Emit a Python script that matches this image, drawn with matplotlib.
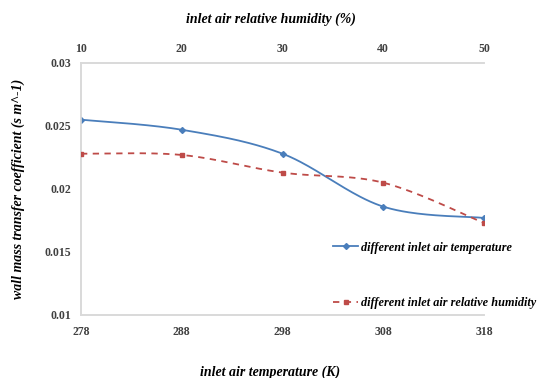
import numpy as np
import matplotlib.pyplot as plt
from matplotlib.lines import Line2D

# data
temperature = [278, 288, 298, 308, 318]
humidity = [10, 20, 30, 40, 50]
coef_temperature = [0.0255, 0.0247, 0.0228, 0.0186, 0.0177]
coef_humidity = [0.0228, 0.0227, 0.0213, 0.0205, 0.0173]

ylim = (0.01, 0.03)


def smooth(x, y, xlim, n=40):
    # Excel-style smoothed line: cubic Bezier segments, computed in axes fractions
    x = np.asarray(x, float)
    y = np.asarray(y, float)
    u = (x - xlim[0]) / (xlim[1] - xlim[0])
    v = (y - ylim[0]) / (ylim[1] - ylim[0])
    p = np.column_stack([u, v])
    pts = []
    t = np.linspace(0, 1, n)[:, None]
    for i in range(len(p) - 1):
        p0 = p[max(i - 1, 0)]
        p1 = p[i]
        p2 = p[i + 1]
        p3 = p[min(i + 2, len(p) - 1)]
        c1 = p1 + (p2 - p0) / 6
        c2 = p2 - (p3 - p1) / 6
        seg = ((1 - t) ** 3) * p1 + 3 * ((1 - t) ** 2) * t * c1 + 3 * (1 - t) * t ** 2 * c2 + t ** 3 * p2
        pts.append(seg)
    pts = np.vstack(pts)
    xs = xlim[0] + pts[:, 0] * (xlim[1] - xlim[0])
    ys = ylim[0] + pts[:, 1] * (ylim[1] - ylim[0])
    return xs, ys


blue = '#4a7ebb'
red = '#be4b48'
grey = '#d9d9d9'
tickc = '#404040'

fig = plt.figure(figsize=(5.41, 3.78), dpi=100)
ax = fig.add_axes([0.1497, 0.1667, 0.745, 0.6667])
ax2 = ax.twiny()

tlim = (278, 318)
hlim = (10, 50)

xs, ys = smooth(temperature, coef_temperature, tlim)
ax.plot(xs, ys, color=blue, lw=1.3, zorder=3)
ax.plot(temperature, coef_temperature, ls='none', marker='D', ms=3, color=blue, zorder=4)

xs, ys = smooth(humidity, coef_humidity, hlim)
ax2.plot(xs, ys, color=red, lw=1.3, ls=(0, (3.5, 3)), zorder=3)
ax2.plot(humidity, coef_humidity, ls='none', marker='s', ms=3.5, color=red, zorder=4)

ax.set_xlim(tlim)
ax2.set_xlim(hlim)
ax.set_ylim(ylim)
ax2.set_ylim(ylim)

ax.set_xticks(temperature)
ax2.set_xticks(humidity)
ax.set_yticks([0.01, 0.015, 0.02, 0.025, 0.03])
ax.set_yticklabels(['0.01', '0.015', '0.02', '0.025', '0.03'])

for lab in ax.get_xticklabels() + ax.get_yticklabels() + ax2.get_xticklabels():
    lab.set_fontfamily('Liberation Serif')
    lab.set_fontweight('bold')
    lab.set_fontsize(8.5)
    lab.set_color(tickc)

ax.tick_params(axis='x', length=0, pad=8)
ax.tick_params(axis='y', length=0, pad=7)
ax2.tick_params(axis='x', length=0, pad=6)

for a in (ax, ax2):
    a.spines['right'].set_visible(False)
    for s in ('left', 'top', 'bottom'):
        a.spines[s].set_color(grey)
        a.spines[s].set_linewidth(1.2)

lfont = dict(family='Liberation Serif', weight='bold', style='italic', size=10)
fig.text(0.5, 0.95, 'inlet air relative humidity (%)', ha='center', va='center', **lfont)
fig.text(0.5, 0.016, 'inlet air temperature (K)', ha='center', va='center', **lfont)
fig.text(0.033, 0.5, 'wall mass transfer coefficient (s m^-1)', ha='center', va='center',
         rotation=90, **lfont)

handles = [
    Line2D([], [], color=blue, lw=1.3, marker='D', ms=3),
    Line2D([], [], color=red, lw=1.3, ls=(0, (3.5, 3)), marker='s', ms=3.5),
]
labels = ['different inlet air temperature', 'different inlet air relative humidity']
leg = fig.legend(handles, labels, loc='upper left', bbox_to_anchor=(0.596, 0.39),
                 frameon=False, handlelength=2.0, handletextpad=0.25, labelspacing=3.55,
                 prop=dict(family='Liberation Serif', weight='bold', style='italic', size=8.8))

fig.savefig('out.png', dpi=100)
